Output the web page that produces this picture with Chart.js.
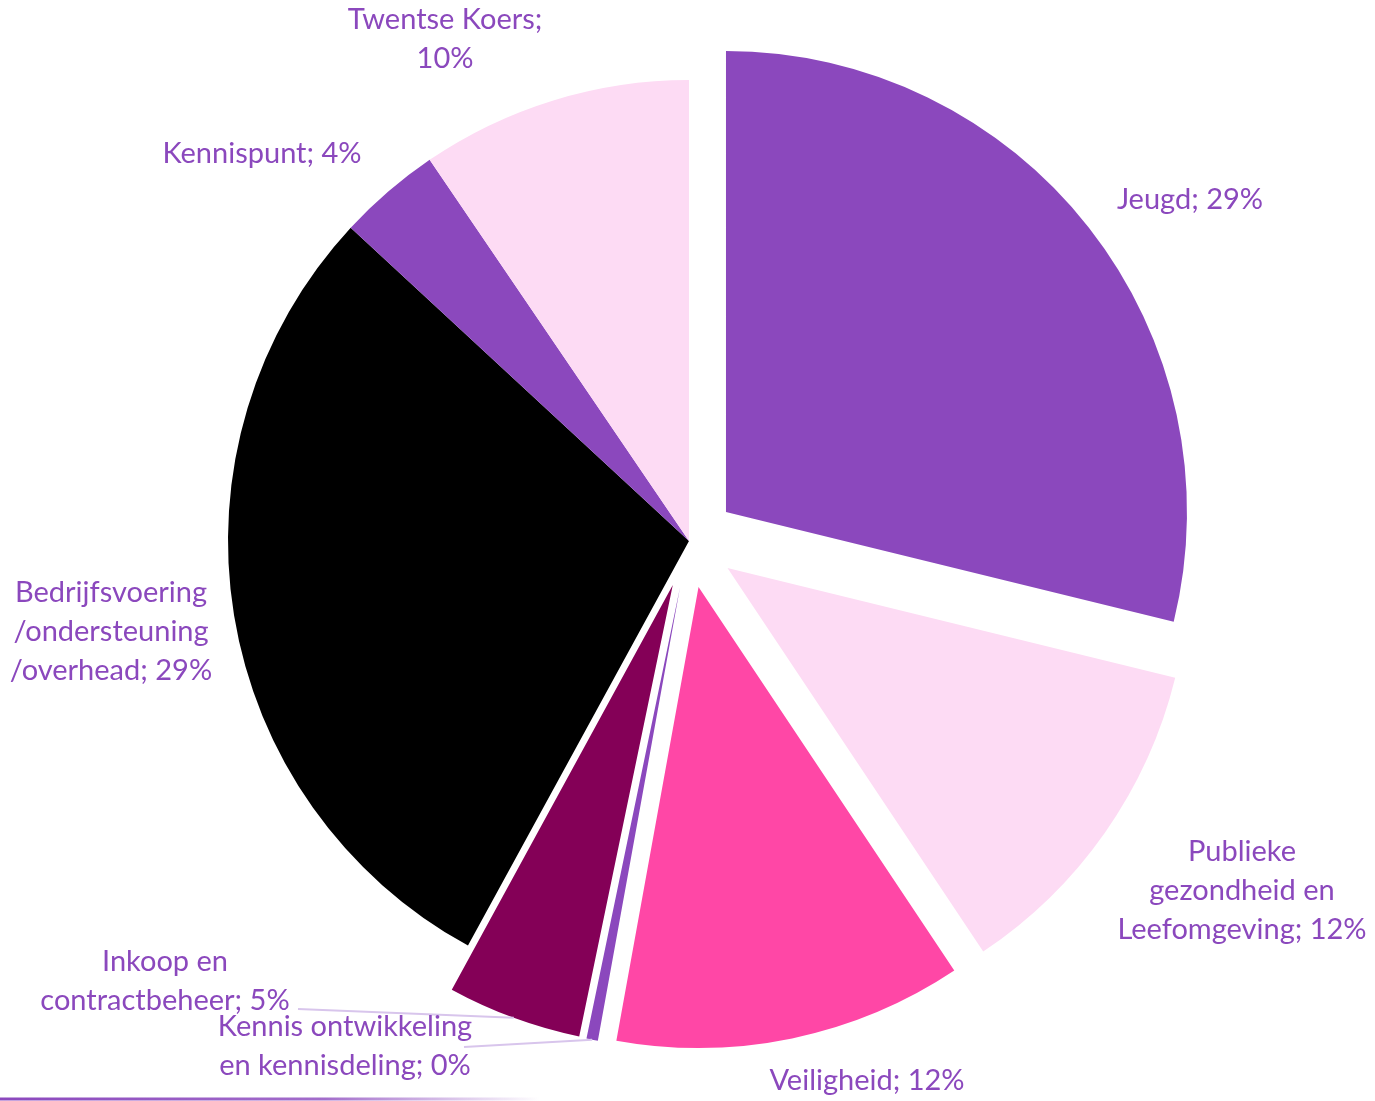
<!DOCTYPE html>
<html>
<head>
<meta charset="utf-8">
<script src="https://cdn.jsdelivr.net/npm/chart.js@4/dist/chart.umd.min.js"></script>
<style>
  html, body { margin: 0; padding: 0; background: #fff; }
  #wrap { width: 1375px; height: 1101px; }
</style>
</head>
<body>
<div id="wrap"><canvas id="chart" width="1375" height="1101"></canvas></div>
<script>
// data (shares in %)
const categories = ['Jeugd', 'Publieke gezondheid en Leefomgeving', 'Veiligheid',
	'Kennis ontwikkeling en kennisdeling', 'Inkoop en contractbeheer',
	'Bedrijfsvoering /ondersteuning /overhead', 'Kennispunt', 'Twentse Koers'];
const values   = [28.8, 11.8, 12.2, 0.4, 4.7, 28.9, 3.6, 9.5];
const colors   = ['#8b48bd', '#fddbf4', '#ff47a6', '#8b48bd', '#840057', '#000000', '#8b48bd', '#fddbf4'];
const exploded = [true, true, true, true, true, false, false, false];

// label text, {p} is replaced by the rounded share
const labelText = [
	'Jeugd; {p}',
	'Publieke\ngezondheid en\nLeefomgeving; {p}',
	'Veiligheid; {p}',
	'Kennis ontwikkeling\nen kennisdeling; {p}',
	'Inkoop en\ncontractbeheer; {p}',
	'Bedrijfsvoering\n/ondersteuning\n/overhead; {p}',
	'Kennispunt; {p}',
	'Twentse Koers;\n{p}'
];
// label placement: centre x, middle of first line
const labelPos = [[1190, 200], [1242, 852], [867, 1081], [345, 1027], [165, 962], [111, 593], [262, 154], [445, 20]];
const leaderLines = { 3: [464, 1047], 4: [298, 1009] };

const EXPLODE = 47;
const FONT = '29px Lato';
const TEXT_COLOR = '#8b48bd';
const LINE_H = 38.7;

// pull exploded slices out of the pie without changing their radius
const explodePlugin = {
	id: 'explode',
	beforeDatasetsDraw(chart) {
		const meta = chart.getDatasetMeta(0);
		const baseDraw = Chart.ArcElement.prototype.draw;
		meta.data.forEach((arc, i) => {
			const d = exploded[i] ? EXPLODE : 0;
			arc.draw = function (ctx, area) {
				const mid = (this.startAngle + this.endAngle) / 2;
				ctx.save();
				ctx.translate(Math.cos(mid) * d, Math.sin(mid) * d);
				baseDraw.call(this, ctx, area);
				ctx.restore();
			};
		});
	}
};

const labelsPlugin = {
	id: 'sliceLabels',
	afterDatasetsDraw(chart) {
		const ctx = chart.ctx;
		const meta = chart.getDatasetMeta(0);
		const total = values.reduce((a, b) => a + b, 0);

		// leader lines
		ctx.save();
		ctx.strokeStyle = '#d8c5ec';
		ctx.lineWidth = 2;
		Object.keys(leaderLines).forEach(i => {
			const arc = meta.data[i];
			const p = arc.getProps(['x', 'y', 'startAngle', 'endAngle', 'outerRadius']);
			const mid = (p.startAngle + p.endAngle) / 2;
			const r = p.outerRadius + (exploded[i] ? EXPLODE : 0);
			ctx.beginPath();
			ctx.moveTo(leaderLines[i][0], leaderLines[i][1]);
			ctx.lineTo(p.x + Math.cos(mid) * r, p.y + Math.sin(mid) * r);
			ctx.stroke();
		});
		ctx.restore();

		ctx.save();
		ctx.font = FONT;
		ctx.fillStyle = TEXT_COLOR;
		ctx.textAlign = 'center';
		ctx.textBaseline = 'middle';
		labelText.forEach((t, i) => {
			const pct = Math.round(values[i] / total * 100) + '%';
			const lines = t.replace('{p}', pct).split('\n');
			lines.forEach((line, k) => {
				ctx.fillText(line, labelPos[i][0], labelPos[i][1] + k * LINE_H);
			});
		});
		ctx.restore();

		// purple line along the bottom edge
		const g = ctx.createLinearGradient(0, 0, 540, 0);
		g.addColorStop(0, 'rgba(139,72,189,1)');
		g.addColorStop(0.6, 'rgba(139,72,189,0.8)');
		g.addColorStop(1, 'rgba(139,72,189,0)');
		ctx.save();
		ctx.strokeStyle = g;
		ctx.lineWidth = 3;
		ctx.beginPath();
		ctx.moveTo(0, 1099);
		ctx.lineTo(540, 1099);
		ctx.stroke();
		ctx.restore();
	}
};

new Chart(document.getElementById('chart'), {
	type: 'pie',
	data: {
		labels: categories,
		datasets: [{
			data: values,
			backgroundColor: colors,
			borderWidth: 0
		}]
	},
	options: {
		responsive: false,
		animation: false,
		radius: 461,
		layout: { padding: { left: 3, right: 0, top: 0, bottom: 19 } },
		plugins: {
			legend: { display: false },
			tooltip: { enabled: false }
		}
	},
	plugins: [explodePlugin, labelsPlugin]
});
</script>
</body>
</html>
